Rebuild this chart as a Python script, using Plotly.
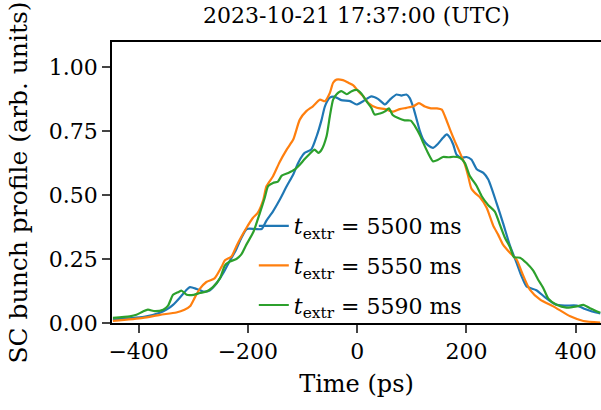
import plotly.graph_objects as go

# Time axis (ps) and bunch profiles
t_5500 = [-447, -420, -390, -361, -349, -337, -325, -312, -306, -294, -282, -270, -257, -245,
          -232, -223, -212, -202, -187, -175, -166, -154, -142, -129, -117, -108, -99, -96,
          -84, -74, -65, -59, -50, -41, -29, -13, -1, 11, 26, 38, 51, 60, 72, 81, 90, 96,
          103, 109, 115, 121, 130, 139, 148, 157, 164, 170, 176, 182, 191, 200, 209, 219,
          231, 240, 255, 267, 280, 292, 301, 310, 328, 344, 362, 380, 402, 417, 430, 445]
v_5500 = [0.013, 0.018, 0.024, 0.040, 0.052, 0.071, 0.098, 0.130, 0.140, 0.133, 0.123, 0.127,
          0.156, 0.195, 0.247, 0.280, 0.332, 0.367, 0.367, 0.367, 0.400, 0.436, 0.480, 0.534,
          0.580, 0.625, 0.657, 0.664, 0.677, 0.730, 0.794, 0.846, 0.880, 0.883, 0.870, 0.866,
          0.853, 0.866, 0.885, 0.875, 0.853, 0.872, 0.892, 0.888, 0.892, 0.879, 0.840, 0.794,
          0.748, 0.716, 0.693, 0.684, 0.700, 0.723, 0.736, 0.723, 0.696, 0.657, 0.645, 0.648,
          0.638, 0.600, 0.586, 0.560, 0.469, 0.390, 0.300, 0.234, 0.182, 0.143, 0.128, 0.100,
          0.073, 0.068, 0.068, 0.055, 0.045, 0.037]

t_5550 = [-447, -392, -361, -331, -316, -306, -297, -288, -276, -261, -248, -242, -230, -221,
          -215, -203, -191, -182, -172, -166, -154, -142, -129, -117, -105, -93, -81, -68,
          -59, -50, -44, -38, -26, -16, -7, 2, 11, 20, 36, 51, 66, 78, 90, 103, 113, 124,
          135, 146, 155, 161, 170, 179, 188, 197, 203, 209, 217, 225, 237, 249, 258, 267,
          280, 292, 301, 316, 335, 359, 390, 414, 445]
v_5550 = [0.008, 0.020, 0.032, 0.041, 0.052, 0.065, 0.100, 0.133, 0.160, 0.174, 0.220, 0.245,
          0.260, 0.300, 0.325, 0.370, 0.410, 0.430, 0.480, 0.534, 0.573, 0.628, 0.677, 0.716,
          0.794, 0.827, 0.846, 0.872, 0.866, 0.898, 0.938, 0.950, 0.948, 0.938, 0.928, 0.905,
          0.885, 0.860, 0.840, 0.835, 0.825, 0.835, 0.840, 0.846, 0.858, 0.845, 0.838, 0.838,
          0.833, 0.805, 0.755, 0.708, 0.665, 0.620, 0.575, 0.525, 0.505, 0.490, 0.450, 0.380,
          0.345, 0.306, 0.273, 0.247, 0.200, 0.130, 0.091, 0.065, 0.026, 0.008, 0.002]

t_5590 = [-447, -416, -404, -392, -383, -370, -355, -346, -337, -328, -321, -312, -299, -288,
          -276, -264, -251, -242, -233, -221, -212, -203, -190, -178, -169, -163, -154, -145,
          -138, -126, -114, -105, -96, -87, -78, -71, -65, -56, -50, -44, -38, -29, -19, -10,
          -1, 8, 17, 26, 32, 42, 51, 58, 65, 75, 87, 98, 106, 115, 121, 129, 139, 148, 157,
          167, 176, 188, 197, 206, 219, 228, 240, 252, 261, 270, 280, 287, 298, 310, 322,
          331, 341, 350, 365, 383, 402, 414, 426, 445]
v_5590 = [0.020, 0.026, 0.032, 0.045, 0.052, 0.046, 0.052, 0.068, 0.110, 0.120, 0.126, 0.110,
          0.110, 0.117, 0.123, 0.140, 0.175, 0.225, 0.240, 0.250, 0.268, 0.305, 0.355, 0.430,
          0.490, 0.534, 0.547, 0.552, 0.575, 0.586, 0.600, 0.618, 0.640, 0.660, 0.677, 0.664,
          0.677, 0.729, 0.807, 0.872, 0.892, 0.905, 0.893, 0.905, 0.910, 0.895, 0.866, 0.840,
          0.814, 0.818, 0.826, 0.838, 0.812, 0.800, 0.791, 0.790, 0.768, 0.733, 0.703, 0.667,
          0.631, 0.637, 0.648, 0.647, 0.649, 0.645, 0.625, 0.575, 0.534, 0.495, 0.460, 0.435,
          0.385, 0.335, 0.295, 0.257, 0.255, 0.234, 0.205, 0.170, 0.135, 0.095, 0.071, 0.060,
          0.065, 0.071, 0.058, 0.040]

labels = ["5500", "5550", "5590"]
colors = ["#1f77b4", "#ff7f0e", "#2ca02c"]
x_ticks = [-400, -200, 0, 200, 400]
y_ticks = [0.0, 0.25, 0.5, 0.75, 1.0]

FONT = "DejaVu Serif"


def f(size):
    return dict(family=FONT, size=size, color="black")


fig = go.Figure()
for t, v, lab, c in zip([t_5500, t_5550, t_5590], [v_5500, v_5550, v_5590], labels, colors):
    fig.add_trace(go.Scatter(
        x=t, y=v, mode="lines", line=dict(color=c, width=2.2, shape="spline", smoothing=0.6),
        name=f"<i>t</i><sub>extr</sub> = {lab} ms", legendgroup=lab))

fig.update_layout(
    width=601, height=410,
    margin=dict(l=112, r=0, t=42, b=87),
    paper_bgcolor="white", plot_bgcolor="white",
    font=f(22),
    title=dict(text="2023-10-21 17:37:00 (UTC)", x=0.5, xref="paper", xanchor="center",
               y=0.963, yref="container", yanchor="middle", font=f(22)),
    showlegend=True,
    legend=dict(x=0.29, y=0.42, xanchor="left", yanchor="top", bgcolor="rgba(0,0,0,0)",
                font=f(22), traceorder="grouped", tracegroupgap=8),
    xaxis=dict(range=[-448.7, 446.3], tickvals=x_ticks, ticks="outside", ticklen=8,
               tickwidth=1.8, showline=True, linewidth=1.8, linecolor="black", mirror=True,
               showgrid=False, zeroline=False,
               title=dict(text="Time (ps)", standoff=12, font=f(24)),
               tickfont=f(22)),
    yaxis=dict(range=[0, 1.097], tickvals=y_ticks, tickformat=".2f", ticks="outside",
               ticklen=8, tickwidth=1.8, showline=True, linewidth=1.8, linecolor="black",
               mirror=False, showgrid=False, zeroline=False,
               title=dict(text="SC bunch profile (arb. units)", standoff=14, font=f(25)),
               tickfont=f(22)),
)

fig.write_html("out.html")
